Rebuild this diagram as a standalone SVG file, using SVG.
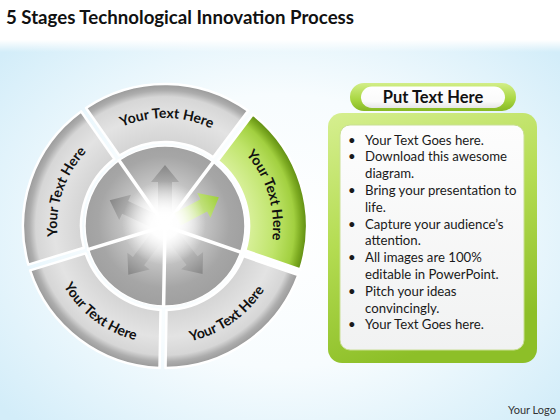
<svg xmlns="http://www.w3.org/2000/svg" width="560" height="420" viewBox="0 0 560 420">
<defs>
<radialGradient id="bg" cx="50%" cy="55%" r="65%">
<stop offset="0" stop-color="#ffffff"/>
<stop offset="0.5" stop-color="#f7fcfe"/>
<stop offset="1" stop-color="#d3edf9"/>
</radialGradient>
<linearGradient id="bgTop" x1="0" y1="0" x2="0" y2="1">
<stop offset="0" stop-color="#ffffff" stop-opacity="1"/>
<stop offset="1" stop-color="#ffffff" stop-opacity="0"/>
</linearGradient>
<radialGradient id="segGray" gradientUnits="userSpaceOnUse" cx="165" cy="226" r="142">
<stop offset="0.59" stop-color="#d4d4d4"/>
<stop offset="0.78" stop-color="#e3e3e3"/>
<stop offset="0.91" stop-color="#d6d6d6"/>
<stop offset="0.955" stop-color="#adadad"/>
<stop offset="1" stop-color="#999999"/>
</radialGradient>
<radialGradient id="segGreen" gradientUnits="userSpaceOnUse" cx="165" cy="226" r="142">
<stop offset="0.59" stop-color="#d8f09a"/>
<stop offset="0.78" stop-color="#bfe46a"/>
<stop offset="0.91" stop-color="#a2d040"/>
<stop offset="0.955" stop-color="#7eac22"/>
<stop offset="1" stop-color="#5f8c12"/>
</radialGradient>
<radialGradient id="disc" gradientUnits="userSpaceOnUse" cx="164" cy="222" r="82">
<stop offset="0" stop-color="#ffffff"/>
<stop offset="0.2" stop-color="#f0f0f0"/>
<stop offset="0.45" stop-color="#c8c8c8"/>
<stop offset="0.8" stop-color="#a6a6a6"/>
<stop offset="1" stop-color="#a0a0a0"/>
</radialGradient>
<radialGradient id="glow" cx="50%" cy="50%" r="50%">
<stop offset="0" stop-color="#ffffff" stop-opacity="1"/>
<stop offset="0.35" stop-color="#ffffff" stop-opacity="0.9"/>
<stop offset="1" stop-color="#ffffff" stop-opacity="0"/>
</radialGradient>
<linearGradient id="arrowGray" gradientUnits="userSpaceOnUse" x1="14" y1="0" x2="61" y2="0">
<stop offset="0" stop-color="#e6e6e6"/>
<stop offset="1" stop-color="#868686"/>
</linearGradient>
<linearGradient id="arrowGreen" gradientUnits="userSpaceOnUse" x1="14" y1="0" x2="61" y2="0">
<stop offset="0" stop-color="#f0f8d8"/>
<stop offset="1" stop-color="#9fd03a"/>
</linearGradient>
<linearGradient id="frame" x1="0" y1="0" x2="0.3" y2="1">
<stop offset="0" stop-color="#d6ef90"/>
<stop offset="0.5" stop-color="#b4dc52"/>
<stop offset="1" stop-color="#8dbf28"/>
</linearGradient>
<linearGradient id="pill" x1="0" y1="0" x2="0" y2="1">
<stop offset="0" stop-color="#d2ee88"/>
<stop offset="0.6" stop-color="#a8d640"/>
<stop offset="1" stop-color="#86b824"/>
</linearGradient>
<linearGradient id="paper" x1="0" y1="0" x2="0" y2="1">
<stop offset="0" stop-color="#fdfdfd"/>
<stop offset="1" stop-color="#f1f2f2"/>
</linearGradient>
<linearGradient id="pillIn" x1="0" y1="0" x2="0" y2="1">
<stop offset="0" stop-color="#ffffff"/>
<stop offset="0.7" stop-color="#fafafa"/>
<stop offset="1" stop-color="#e6e6e6"/>
</linearGradient>
<path id="arrowShape" d="M14,-7 L44,-7 L44,-14 L61,0 L44,14 L44,7 L14,7 Z"/>
<path id="tpTop" d="M72.42,170.38 A108,108 0 0 1 259.46,173.64"/>
<path id="tpLeft" d="M83.49,296.86 A108,108 0 0 1 144.39,119.99"/>
<path id="tpRight" d="M189.30,120.76 A108,108 0 0 1 243.99,299.66"/>
<path id="tpBL" d="M47.88,211.62 A118,118 0 0 0 211.10,334.62"/>
<path id="tpBR" d="M115.13,332.94 A118,118 0 0 0 282.55,215.71"/>
</defs>
<style>
.seg{stroke:#ffffff;stroke-width:2.5;stroke-linejoin:round}
.gray{fill:url(#segGray)}
.green{fill:url(#segGreen)}
.lbl{font-family:Lato,"Liberation Sans",sans-serif;font-weight:700;font-size:14px;fill:#111111}
.body{font-family:Lato,"Liberation Sans",sans-serif;font-size:13.2px;fill:#1a1a1a}
</style>
<rect x="0" y="0" width="560" height="420" fill="url(#bg)"/>
<rect x="0" y="0" width="560" height="40" fill="#ffffff"/>
<rect x="0" y="40" width="560" height="12" fill="url(#bgTop)"/>

<g id="title">
<text x="6" y="24" font-family="Lato,'Liberation Sans',sans-serif" font-weight="700" font-size="19" fill="#111111" textLength="348" lengthAdjust="spacingAndGlyphs">5 Stages Technological Innovation Process</text>
</g>

<g id="hub">
<circle cx="165" cy="226" r="80" fill="url(#disc)" stroke="#ffffff" stroke-width="1.5"/>
<g stroke="#ffffff" stroke-width="3.5" stroke-linecap="round">
<line x1="165" y1="226" x2="240.64" y2="252.05"/>
<line x1="165" y1="226" x2="163.60" y2="305.99"/>
<line x1="165" y1="226" x2="88.50" y2="249.39"/>
<line x1="165" y1="226" x2="119.11" y2="160.46"/>
<line x1="165" y1="226" x2="213.14" y2="162.11"/>
</g>
<g id="arrows">
<use href="#arrowShape" fill="url(#arrowGray)" transform="translate(165,226) rotate(-90)"/>
<use href="#arrowShape" fill="url(#arrowGray)" transform="translate(165,226) rotate(-155)"/>
<use href="#arrowShape" fill="url(#arrowGray)" transform="translate(165,226) rotate(52)"/>
<use href="#arrowShape" fill="url(#arrowGray)" transform="translate(165,226) rotate(127)"/>
<use href="#arrowShape" fill="url(#arrowGreen)" transform="translate(165,226) rotate(-28)"/>
</g>
<circle cx="164" cy="223" r="42" fill="url(#glow)"/>
</g>

<g id="seg-top">
<path class="seg gray" d="M86.03,107.98 A142,142 0 0 1 248.04,110.82 L213.12,157.16 A84,84 0 0 0 119.31,155.51 Z"/>
<text class="lbl"><textPath href="#tpTop" startOffset="50%" text-anchor="middle">Your Text Here</textPath></text>
</g>
<g id="seg-right">
<path class="seg green" d="M252.84,114.43 A142,142 0 0 1 300.21,269.39 L245.35,250.49 A84,84 0 0 0 217.92,160.77 Z"/>
<text class="lbl"><textPath href="#tpRight" startOffset="50%" text-anchor="middle">Your Text Here</textPath></text>
</g>
<g id="seg-bottom-right">
<path class="seg gray" d="M298.25,275.07 A142,142 0 0 1 165.52,368.0 L166.53,309.99 A84,84 0 0 0 243.39,256.17 Z"/>
<text class="lbl"><textPath href="#tpBR" startOffset="50%" text-anchor="middle">Your Text Here</textPath></text>
</g>
<g id="seg-bottom-left">
<path class="seg gray" d="M159.52,367.90 A142,142 0 0 1 30.11,270.38 L85.60,253.42 A84,84 0 0 0 160.54,309.89 Z"/>
<text class="lbl"><textPath href="#tpBL" startOffset="50%" text-anchor="middle">Your Text Here</textPath></text>
</g>
<g id="seg-left">
<path class="seg gray" d="M28.35,264.64 A142,142 0 0 1 81.11,111.42 L114.39,158.95 A84,84 0 0 0 83.84,247.68 Z"/>
<text class="lbl"><textPath href="#tpLeft" startOffset="50%" text-anchor="middle">Your Text Here</textPath></text>
</g>

<g id="header">
<rect x="350" y="83" width="166" height="28" rx="14" fill="url(#pill)"/>
<rect x="361" y="86.5" width="144" height="21.5" rx="10.75" fill="url(#pillIn)"/>
<text x="433" y="103" text-anchor="middle" font-family="Lato,'Liberation Sans',sans-serif" font-weight="700" font-size="16.5" fill="#111111">Put Text Here</text>
</g>

<g id="panel">
<rect x="328" y="113" width="209" height="250" rx="14" fill="url(#frame)"/>
<rect x="340" y="125" width="184" height="225" rx="10" fill="url(#paper)" stroke="#c9df94" stroke-width="1"/>
<text class="body">
<tspan x="348" y="144.5">•</tspan><tspan x="365" y="144.5">Your Text Goes here.</tspan>
<tspan x="348" y="161.3">•</tspan><tspan x="365" y="161.3">Download this awesome</tspan>
<tspan x="365" y="178.1">diagram.</tspan>
<tspan x="348" y="194.9">•</tspan><tspan x="365" y="194.9">Bring your presentation to</tspan>
<tspan x="365" y="211.7">life.</tspan>
<tspan x="348" y="228.5">•</tspan><tspan x="365" y="228.5">Capture your audience’s</tspan>
<tspan x="365" y="245.3">attention.</tspan>
<tspan x="348" y="262.1">•</tspan><tspan x="365" y="262.1">All images are 100%</tspan>
<tspan x="365" y="278.9">editable in PowerPoint.</tspan>
<tspan x="348" y="295.7">•</tspan><tspan x="365" y="295.7">Pitch your ideas</tspan>
<tspan x="365" y="312.5">convincingly.</tspan>
<tspan x="348" y="329.3">•</tspan><tspan x="365" y="329.3">Your Text Goes here.</tspan>
</text>
</g>

<g id="logo">
<text x="508" y="414" font-family="Lato,'Liberation Sans',sans-serif" font-size="11" fill="#333333">Your Logo</text>
</g>
</svg>
